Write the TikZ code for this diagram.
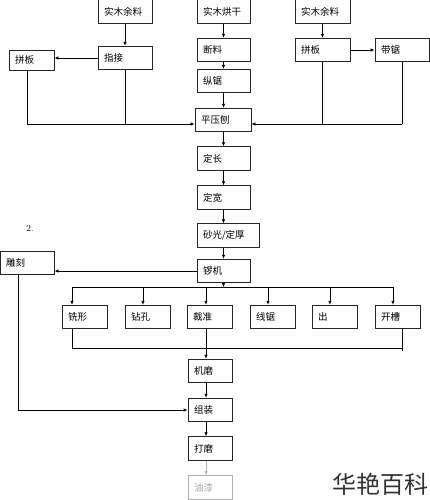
\documentclass[tikz,border=0pt]{standalone}
\usepackage{fontspec}
\newfontfamily\cjk{Noto Sans CJK SC}
\usetikzlibrary{arrows.meta}
\tikzset{
    box/.style={rectangle, draw=black!85, line width=0.9pt, align=left, text width=#1,
        minimum height=23.5pt, inner xsep=6pt, inner ysep=0pt, font=\cjk\fontsize{9.5}{11}\selectfont},
    box/.default=41pt,
    arrow/.style={-{Latex[length=4pt, width=3.5pt]}, line width=0.7pt},
    link/.style={line width=0.7pt},
    faded/.style={draw=black!30, text=black!35},
}

\begin{document}
\begin{tikzpicture}[x=1pt, y=-1pt]
    \useasboundingbox (0,0) rectangle (430,500);
    % top rows
    \node[box=42pt] (ylA) at (125,11.5) {实木余料};
    \node[box] (hg) at (223.5,11.5) {实木烘干};
    \node[box=43pt] (ylB) at (322.5,11.5) {实木余料};
    \node[box=42pt] (zhj) at (125,58) {指接};
    \node[box=33pt, minimum height=20pt] (pbA) at (31.5,60) {拼板};
    \node[box] (dl) at (223.5,50) {断料};
    \node[box] (zj) at (223.5,81) {纵锯};
    \node[box=43pt] (pbB) at (322.5,50) {拼板};
    \node[box=42pt] (dj) at (402,50) {带锯};
    \node[box=44pt] (pyb) at (223,120) {平压刨};
    \node[box] (dc) at (223.5,158.5) {定长};
    \node[box] (dk) at (223.5,197.5) {定宽};
    \node[box=50pt] (sg) at (228,235.5) {砂光/定厚};
    \node[font=\fontsize{9}{10}\selectfont] (num) at (30,229) {2.};
    \node[box=42pt] (dkA) at (27,263) {雕刻};
    \node[box] (lj) at (223.5,271) {锣机};
    % second stage
    \node[box=33pt] (xx) at (84.5,317) {铣形};
    \node[box=33pt] (zk) at (147.5,317) {钻孔};
    \node[box=33pt] (cz) at (209.5,317) {裁准};
    \node[box=33pt] (xj) at (272.5,317) {线锯};
    \node[box=33pt] (ch) at (334.5,317) {出};
    \node[box=33pt] (kc) at (397.5,317) {开槽};
    \node[box=32pt] (jm) at (210,371) {机磨};
    \node[box=32pt] (zz) at (210,410) {组装};
    \node[box=32pt] (dm) at (210,448.5) {打磨};
    \node[box=32pt, faded] (yq) at (210,487.5) {油漆};
    \node[font=\cjk\fontsize{24}{26}\selectfont, text=black!80, inner sep=0pt] (wm) at (380,484) {华艳百科};

    % connectors
    \draw[arrow] (ylA) -- (zhj);
    \draw[arrow] (zhj.west) -- (zhj.west -| pbA.east);
    \draw[arrow] (hg) -- (dl);
    \draw[arrow] (dl) -- (zj);
    \draw[arrow] (zj) -- (pyb.north -| zj);
    \draw[arrow] (ylB) -- (pbB);
    \draw[arrow] (pbB) -- (dj);
    \coordinate (mgA) at (27,124);
    \coordinate (mgB) at (402,124);
    \draw[link] (pbA.south -| mgA) -- (mgA);
    \draw[link] (zhj.south) -- (zhj.south |- mgA);
    \draw[arrow] (mgA) -- (mgA -| pyb.west);
    \draw[link] (pbB.south) -- (pbB.south |- mgB);
    \draw[link] (dj.south) -- (mgB);
    \draw[arrow] (mgB) -- (mgB -| pyb.east);
    \draw[arrow] (pyb.south -| dc) -- (dc);
    \draw[arrow] (dc) -- (dk);
    \draw[arrow] (dk) -- (sg.north -| dk);
    \draw[arrow] (sg.south -| lj) -- (lj);
    \draw[arrow] (lj.west) -- (lj.west -| dkA.east);
    % distribution
    \coordinate (bus) at (223.5,287);
    \draw[arrow] (lj.south) -- (bus);
    \draw[link] (72,287) -- (393,287);
    \foreach \nm/\x in {xx/72, zk/143, cz/206, xj/268, ch/330, kc/393}
        \draw[arrow] (\x,287) -- (\nm.north -| \x,0);
    \draw[link] (xx.south -| 72,0) -- (72,348) -- (402,348);
    \draw[link] (402,351) -- (kc.south -| 402,0);
    \draw[arrow] (cz.south -| 206,0) -- (jm.north -| 206,0);
    \draw[arrow] (jm.south -| 206,0) -- (zz.north -| 206,0);
    \draw[arrow] (zz.south -| 206,0) -- (dm.north -| 206,0);
    \draw[arrow, black!30] (dm.south -| 206,0) -- (yq.north -| 206,0);
    \draw[arrow] (dkA.south -| 18,0) -- (18,410) -- (zz.west);
\end{tikzpicture}
\end{document}
